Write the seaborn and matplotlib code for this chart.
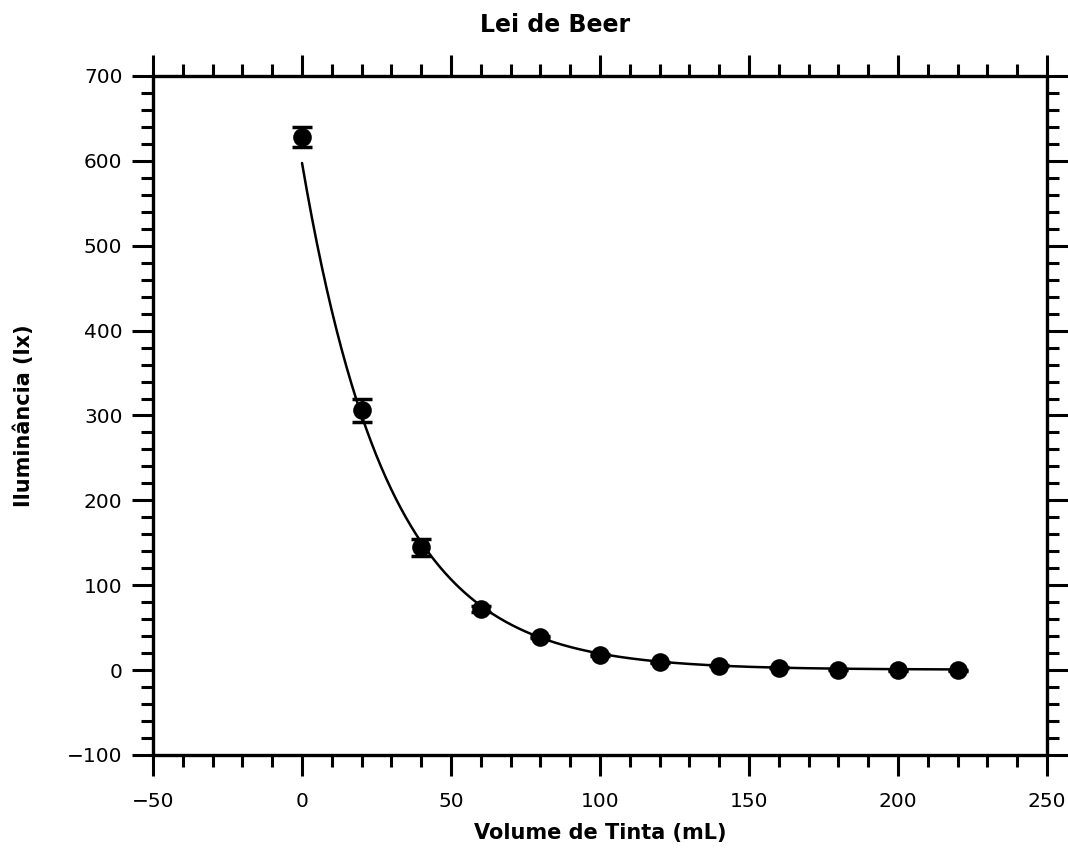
import numpy as np
import pandas as pd
import matplotlib
matplotlib.use("Agg")
import matplotlib.pyplot as plt
from matplotlib.ticker import MultipleLocator
import seaborn as sns

# Measured illuminance vs. ink volume
volume_ml = [0, 20, 40, 60, 80, 100, 120, 140, 160, 180, 200, 220]
illuminance_lx = [628, 306, 145, 72, 39, 18, 9, 5, 3, 0.5, 0, 0]
illuminance_err = [12, 14, 10, 4, 1, 1, 0.5, 0.5, 0.5, 0.5, 0.5, 0.5]

# Exponential decay fit parameters: I = A * exp(-k V) + c
fit_A = 597.0
fit_k = 0.0345
fit_c = 0.5

sns.set_theme(style="ticks")
plt.rcParams["font.family"] = ["DejaVu Sans"]
plt.rcParams["text.color"] = "black"
plt.rcParams["axes.labelcolor"] = "black"

points = pd.DataFrame({"volume": volume_ml, "lux": illuminance_lx, "err": illuminance_err})
v_fit = np.linspace(min(volume_ml), max(volume_ml), 400)
fit = pd.DataFrame({"volume": v_fit, "lux": fit_A * np.exp(-fit_k * v_fit) + fit_c})

fig = plt.figure(figsize=(10.68, 8.48), dpi=100)
ax = fig.add_axes([0.1433, 0.1097, 0.8370, 0.8007])

sns.lineplot(data=fit, x="volume", y="lux", ax=ax, color="black", linewidth=1.8, zorder=2)
ax.errorbar(points["volume"], points["lux"], yerr=points["err"], fmt="none",
            ecolor="black", elinewidth=2, capsize=7, capthick=2.5, zorder=3)
sns.scatterplot(data=points, x="volume", y="lux", ax=ax, color="black", s=180,
                edgecolor="black", linewidth=0, zorder=4)

ax.set_xlim(-50, 250)
ax.set_ylim(-100, 700)
ax.xaxis.set_major_locator(MultipleLocator(50))
ax.xaxis.set_minor_locator(MultipleLocator(10))
ax.yaxis.set_major_locator(MultipleLocator(100))
ax.yaxis.set_minor_locator(MultipleLocator(20))

for side in ["left", "right", "top", "bottom"]:
    ax.spines[side].set_visible(True)
    ax.spines[side].set_linewidth(2.4)
    ax.spines[side].set_color("black")

ax.tick_params(which="both", direction="out", top=True, right=True,
               labeltop=False, labelright=False, color="black", width=2.2)
ax.tick_params(which="major", length=15, labelsize=14.5, labelcolor="black")
ax.tick_params(axis="x", which="major", pad=12)
ax.tick_params(axis="y", which="major", pad=7)
ax.tick_params(which="minor", length=8.5)

fig.text(555 / 1068, 1 - 25 / 848, "Lei de Beer", fontsize=17, fontweight="bold",
         ha="center", va="center", color="black")
ax.set_xlabel("Volume de Tinta (mL)", fontsize=15, fontweight="bold", labelpad=8)
ax.set_ylabel("Iluminância (lx)", fontsize=15, fontweight="bold", labelpad=24)

fig.savefig("out.png", dpi=100)
